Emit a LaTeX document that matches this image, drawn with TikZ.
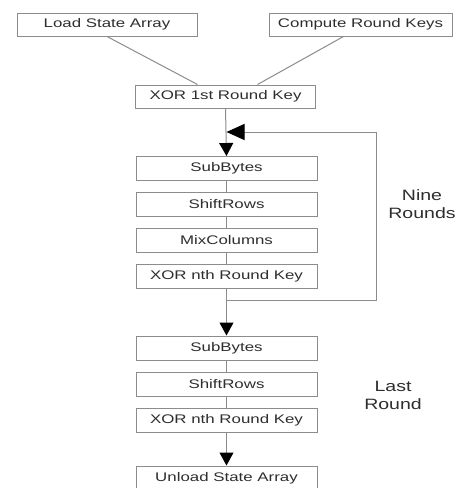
\documentclass[tikz,border=0pt]{standalone}
\usepackage{fontspec}
\setmainfont{Liberation Sans}
\newfontfamily\boxfont[FakeStretch=1.35]{Liberation Sans}
\newfontfamily\sidefont[FakeStretch=1.3]{Liberation Sans}
\usetikzlibrary{arrows.meta,positioning}
\definecolor{linegray}{HTML}{8C8C8C}
\definecolor{textgray}{HTML}{2E2E2E}
\begin{document}
\begin{tikzpicture}[x=1pt,y=-1pt,
  stepbox/.style={draw=linegray,line width=1pt,minimum height=24pt,inner sep=0pt,
     text=textgray,font=\boxfont\fontsize{12.5}{14}\selectfont},
  colbox/.style={stepbox,minimum width=181pt},
  conn/.style={draw=linegray,line width=1pt},
  bigtip/.style={-{Triangle[width=14pt,length=13pt,fill=black,color=black]}},
  lefttip/.style={-{Triangle[width=16pt,length=18pt,fill=black,color=black]}},
  sidelabel/.style={text=textgray,align=center,font=\sidefont\fontsize{15}{18}\selectfont}]
\useasboundingbox (0,0) rectangle (460,488);
\fill[white] (0,0) rectangle (460,488);
\node[stepbox,minimum width=180pt,minimum height=23pt] (load) at (107,24.5) {Load State Array};
\node[stepbox,minimum width=183pt,minimum height=23pt] (keys) at (360.5,24.5) {Compute Round Keys};
\node[stepbox,minimum width=180pt,minimum height=23pt] (xor1) at (225.5,96.5) {XOR 1st Round Key};
\node[colbox] (sub1) at (226.5,168.5) {SubBytes};
\node[colbox] (shift1) at (226.5,204.5) {ShiftRows};
\node[colbox] (mix) at (226.5,240) {MixColumns};
\node[colbox] (xorn1) at (226.5,276) {XOR nth Round Key};
\node[colbox] (sub2) at (226.5,348) {SubBytes};
\node[colbox] (shift2) at (226.5,384) {ShiftRows};
\node[colbox] (xorn2) at (226.5,420) {XOR nth Round Key};
\node[colbox] (unload) at (226.5,478) {Unload State Array};
\node[sidelabel] (nine) at (422,204) {Nine\\Rounds};
\node[sidelabel] (last) at (393,395) {Last\\Round};
% inputs
\draw[conn] (load.south) -- ([xshift=-28pt]xor1.north);
\draw[conn] ([xshift=-17pt]keys.south) -- ([xshift=32pt]xor1.north);
% spine
\draw[conn,bigtip] (xor1.south) -- (sub1.north);
\draw[conn] (sub1) -- (shift1);
\draw[conn] (shift1) -- (mix);
\draw[conn] (mix) -- (xorn1);
\draw[conn,bigtip] (xorn1.south) -- (sub2.north);
\draw[conn] (sub2) -- (shift2);
\draw[conn] (shift2) -- (xorn2);
\draw[conn,bigtip] (xorn2.south) -- (unload.north);
% loop
\coordinate (loopstart) at (226.5,300);
\coordinate (loopend) at (226.5,132);
\draw[conn,lefttip] (loopstart) -| (376,132) -- (loopend);
\end{tikzpicture}
\end{document}
